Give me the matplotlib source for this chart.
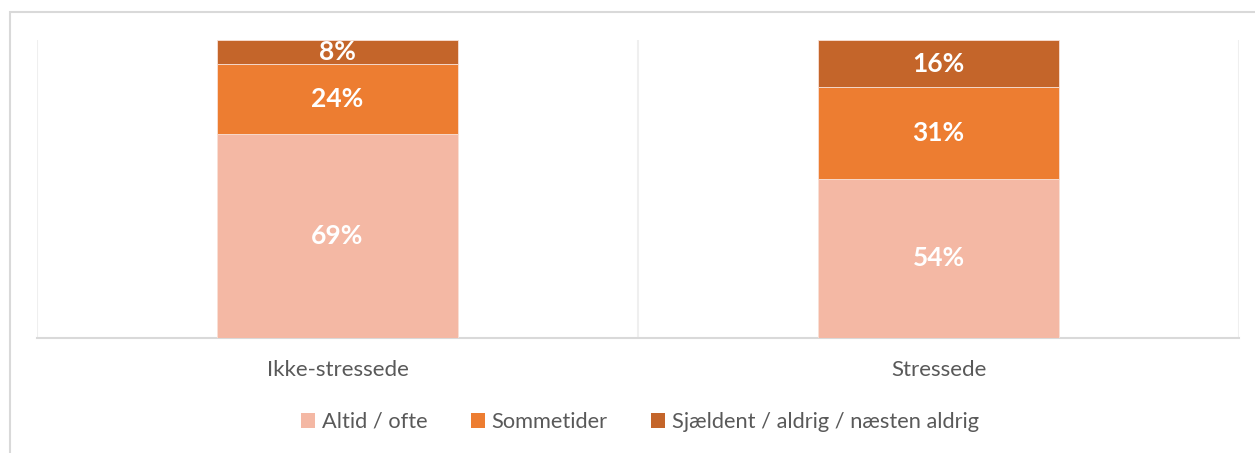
import matplotlib
matplotlib.use("Agg")
import matplotlib.pyplot as plt
from matplotlib.patches import Rectangle, Patch
import numpy as np

categories = ["Ikke-stressede", "Stressede"]
series_names = ["Altid / ofte", "Sommetider", "Sjældent / aldrig / næsten aldrig"]
altid = [69, 54]
sommetider = [24, 31]
sjaeldent = [8, 16]
colors = ["#F4B8A4", "#ED7D31", "#C4652A"]

plt.rcParams['font.family'] = ['Lato', 'DejaVu Sans']

fig = plt.figure(figsize=(12.55, 4.53), dpi=100)
W, H = 1255, 453
ax = fig.add_axes([37/W, 1 - 338/H, (1239-37)/W, (338-40)/H])

series = [altid, sommetider, sjaeldent]
totals = np.sum(np.array(series), axis=0)
x = np.arange(len(categories))
bottom = np.zeros(len(categories))
for vals, col, name in zip(series, colors, series_names):
    h = np.array(vals) / totals * 100
    ax.bar(x, h, bottom=bottom, width=0.4, color=col, edgecolor="#F8E0D6",
           linewidth=0.6, label=name, zorder=3)
    for xi, b, hh, v in zip(x, bottom, h, vals):
        ax.text(xi, b + hh/2, f"{v}%", ha="center", va="center", color="white",
                fontsize=19, fontweight="bold", zorder=4)
    bottom += h

ax.set_xlim(-0.5, 1.5)
ax.set_ylim(0, 100)
for xv in [-0.5, 0.5, 1.5]:
    ax.axvline(xv, color="#EFEFEF", linewidth=1.5, zorder=1)
for s in ["top", "right", "left"]:
    ax.spines[s].set_visible(False)
ax.spines["bottom"].set_color("#D9D9D9")
ax.spines["bottom"].set_linewidth(1.5)
ax.set_yticks([])
ax.set_xticks(x)
ax.set_xticklabels(categories, fontsize=16, color="#595959")
ax.tick_params(axis="x", length=0, pad=16)

handles = [Patch(facecolor=c, edgecolor="none") for c in colors]
fig.legend(handles, series_names, loc="center", bbox_to_anchor=(640/W, 1 - 422/H),
           ncol=3, frameon=False, fontsize=15.7, labelcolor="#595959",
           handlelength=0.65, handleheight=0.65, handletextpad=0.3, columnspacing=2.0)

border = Rectangle((9.5/W, -0.1), 1.2, (453-11.5)/H + 0.1, transform=fig.transFigure,
                   fill=False, edgecolor="#D9D9D9", linewidth=1.5)
fig.patches.append(border)

fig.savefig("out.png", dpi=100)
